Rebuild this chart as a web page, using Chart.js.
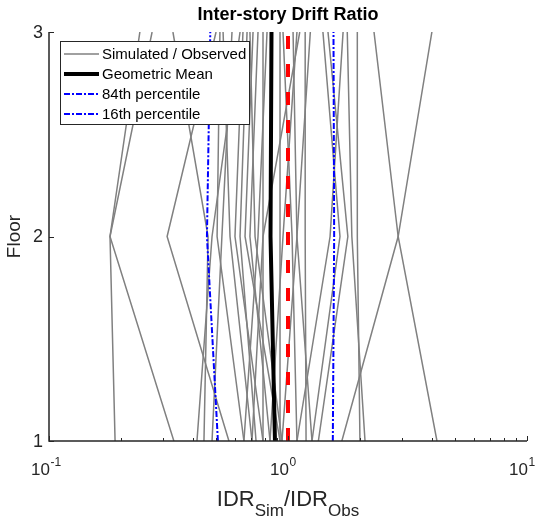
<!DOCTYPE html>
<html>
<head>
<meta charset="utf-8">
<script src="https://cdn.jsdelivr.net/npm/chart.js@4.4.1/dist/chart.umd.min.js"></script>
<style>
  html, body { margin: 0; padding: 0; background: #fff; }
  #wrap { width: 540px; height: 519px; }
</style>
</head>
<body>
<div id="wrap"><canvas id="idr" width="540" height="519"></canvas></div>
<script>
// floor levels (vertical axis)
const floors = [1, 2, 3];

// IDR_sim / IDR_obs per record, listed as [floor 1, floor 2, floor 3]
const ratioRecords = [
  [0.189, 0.180, 0.240],
  [0.333, 0.180, 0.270],
  [0.566, 0.312, 0.500],
  [0.445, 0.463, 0.330],
  [4.20, 2.89, 2.29],
  [1.68, 2.89, 4.00],
  [2.00, 1.95, 1.95],
  [2.10, 1.85, 1.77],
  [1.34, 1.78, 1.47],
  [1.26, 1.65, 1.40],
  [1.19, 1.18, 1.18],
  [1.09, 1.50, 1.70],
  [0.416, 0.481, 0.630],
  [0.481, 0.529, 0.583],
  [0.654, 0.505, 0.519],
  [0.707, 0.572, 0.535],
  [0.735, 0.630, 0.674],
  [0.786, 0.600, 0.648],
  [0.841, 0.693, 0.749],
  [0.926, 0.661, 0.714],
  [0.944, 0.728, 0.693],
  [0.786, 0.786, 0.786],
  [0.654, 0.749, 0.817],
  [0.926, 0.926, 0.926],
  [1.09, 1.04, 0.953],
  [0.944, 1.09, 1.05],
  [0.841, 0.953, 1.09],
  [0.707, 0.786, 1.12],
  [1.26, 1.09, 1.24]
];

// summary statistics per floor
const geoMean = [0.882, 0.845, 0.853];
const pct84 = [1.54, 1.56, 1.55];
const pct16 = [0.509, 0.458, 0.473];
const unity = [1, 1, 1];

// axis ticks
const xMajor = [0.1, 1, 10];
const xExponents = ['-1', '0', '1'];
const xMinor = [0.2, 0.3, 0.4, 0.5, 0.6, 0.7, 0.8, 0.9, 2, 3, 4, 5, 6, 7, 8, 9];
const yTicks = [1, 2, 3];

const FONT = '"Liberation Sans", Arial, Helvetica, sans-serif';
const INK = '#262626';

function pts(vals) {
  return vals.map((v, i) => ({ x: v, y: floors[i] }));
}

const base = { showLine: true, pointRadius: 0, fill: false, tension: 0 };

const datasets = ratioRecords.map((r) => ({
  ...base, label: 'Simulated / Observed', data: pts(r),
  borderColor: '#808080', borderWidth: 1.5, order: 10
}));
datasets.push({ ...base, label: 'Unity', data: pts(unity),
  borderColor: '#ff0000', borderWidth: 4, borderDash: [13, 15], order: 3 });
datasets.push({ ...base, label: 'Geometric Mean', data: pts(geoMean),
  borderColor: '#000000', borderWidth: 4, order: 2 });
datasets.push({ ...base, label: '84th percentile', data: pts(pct84),
  borderColor: '#0000ff', borderWidth: 2, borderDash: [6, 2, 2, 2], order: 1 });
datasets.push({ ...base, label: '16th percentile', data: pts(pct16),
  borderColor: '#0000ff', borderWidth: 2, borderDash: [6, 2, 2, 2], order: 1 });

// legend rows: label, colour, width, dash
const legendRows = [
  ['Simulated / Observed', '#808080', 1.5, []],
  ['Geometric Mean', '#000000', 4, []],
  ['84th percentile', '#0000ff', 2, [6, 2, 2, 2]],
  ['16th percentile', '#0000ff', 2, [6, 2, 2, 2]]
];

// MATLAB-style axes: inward ticks, power labels, sub-scripted axis title, boxed legend
const matlabAxes = {
  id: 'matlabAxes',
  afterDraw(chart) {
    const { ctx, chartArea: a, scales: { x, y } } = chart;
    ctx.save();

    // axis lines
    ctx.strokeStyle = INK;
    ctx.lineWidth = 1.5;
    ctx.setLineDash([]);
    ctx.beginPath();
    ctx.moveTo(a.left, a.top);
    ctx.lineTo(a.left, a.bottom);
    ctx.lineTo(a.right, a.bottom);
    ctx.stroke();

    // tick marks
    ctx.lineWidth = 1;
    ctx.beginPath();
    yTicks.forEach((t) => {
      const py = Math.round(y.getPixelForValue(t)) + 0.5;
      ctx.moveTo(a.left, py);
      ctx.lineTo(a.left + 5, py);
    });
    xMajor.forEach((t) => {
      const px = Math.round(x.getPixelForValue(t)) + 0.5;
      ctx.moveTo(px, a.bottom);
      ctx.lineTo(px, a.bottom - 5);
    });
    xMinor.forEach((t) => {
      const px = Math.round(x.getPixelForValue(t)) + 0.5;
      ctx.moveTo(px, a.bottom);
      ctx.lineTo(px, a.bottom - 3);
    });
    ctx.stroke();

    // y tick labels
    ctx.fillStyle = INK;
    ctx.font = '18px ' + FONT;
    ctx.textAlign = 'right';
    ctx.textBaseline = 'middle';
    yTicks.forEach((t) => {
      ctx.fillText(String(t), a.left - 6, y.getPixelForValue(t) + 1);
    });

    // x tick labels as powers of ten
    ctx.textBaseline = 'alphabetic';
    ctx.textAlign = 'left';
    xMajor.forEach((t, i) => {
      const px = x.getPixelForValue(t);
      ctx.font = '17px ' + FONT;
      const w = ctx.measureText('10').width;
      const x0 = px + 1 - w;
      ctx.fillText('10', x0, 475);
      ctx.font = '12px ' + FONT;
      ctx.fillText(xExponents[i], x0 + w + 0.5, 466);
    });

    // x axis title with subscripts
    const parts = [['IDR', 22, 0], ['Sim', 17, 10], ['/IDR', 22, 0], ['Obs', 17, 10]];
    let total = 0;
    parts.forEach((p) => { ctx.font = p[1] + 'px ' + FONT; total += ctx.measureText(p[0]).width; });
    let cx = (a.left + a.right) / 2 - total / 2;
    parts.forEach((p) => {
      ctx.font = p[1] + 'px ' + FONT;
      ctx.fillText(p[0], cx, 506 + p[2]);
      cx += ctx.measureText(p[0]).width;
    });

    // y axis title
    ctx.save();
    ctx.translate(15, (a.top + a.bottom) / 2);
    ctx.rotate(-Math.PI / 2);
    ctx.textAlign = 'center';
    ctx.textBaseline = 'middle';
    ctx.font = '19px ' + FONT;
    ctx.fillText('Floor', 0, 0);
    ctx.restore();

    // chart title
    ctx.fillStyle = '#000';
    ctx.font = 'bold 18px ' + FONT;
    ctx.textAlign = 'center';
    ctx.textBaseline = 'middle';
    ctx.fillText('Inter-story Drift Ratio', (a.left + a.right) / 2, 15);

    // legend box
    const lx = 60.5, ly = 41.5, lw = 189, lh = 83;
    ctx.fillStyle = '#fff';
    ctx.fillRect(lx, ly, lw, lh);
    ctx.strokeStyle = INK;
    ctx.lineWidth = 1;
    ctx.strokeRect(lx, ly, lw, lh);
    ctx.font = '15px ' + FONT;
    ctx.textAlign = 'left';
    ctx.textBaseline = 'middle';
    legendRows.forEach((row, i) => {
      const ry = 54 + i * 20;
      ctx.strokeStyle = row[1];
      ctx.lineWidth = row[2];
      ctx.setLineDash(row[3]);
      ctx.beginPath();
      ctx.moveTo(64, ry);
      ctx.lineTo(99, ry);
      ctx.stroke();
      ctx.fillStyle = '#000';
      ctx.fillText(row[0], 102, ry + 1);
    });
    ctx.restore();
  }
};

new Chart(document.getElementById('idr'), {
  type: 'scatter',
  data: { datasets },
  options: {
    responsive: false,
    animation: false,
    layout: { padding: { left: 49, right: 13, top: 32, bottom: 78 } },
    plugins: { legend: { display: false }, tooltip: { enabled: false }, title: { display: false } },
    scales: {
      x: { type: 'logarithmic', min: 0.1, max: 10, display: false },
      y: { type: 'linear', min: 1, max: 3, display: false }
    }
  },
  plugins: [matlabAxes]
});
</script>
</body>
</html>
